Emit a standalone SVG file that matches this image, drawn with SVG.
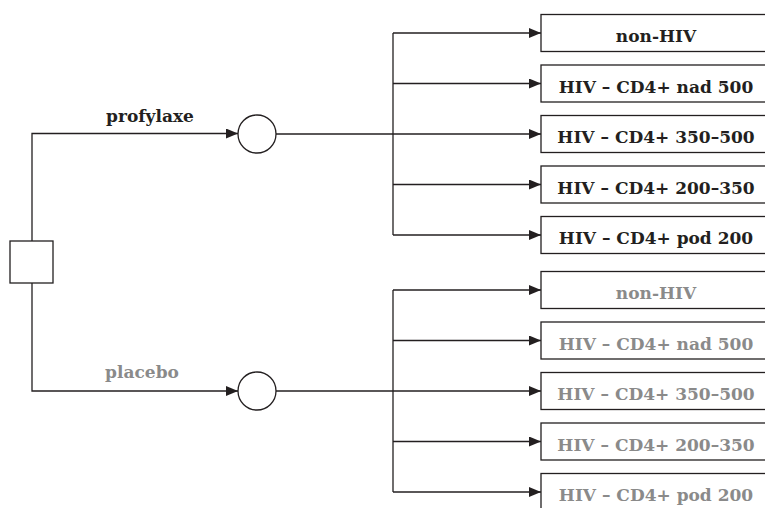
<svg xmlns="http://www.w3.org/2000/svg" width="765" height="508" viewBox="0 0 765 508">
<defs>
<marker id="arr" viewBox="0 0 12 10" refX="12" refY="5" markerWidth="12" markerHeight="10" markerUnits="userSpaceOnUse" orient="auto">
<path d="M0,0 L12,5 L0,10 Z" fill="#231f20"/>
</marker>
<style>
.ln{fill:none;stroke:#231f20;stroke-width:1.3}
.nd{fill:#fff;stroke:#231f20;stroke-width:1.3}
.t{font-family:"DejaVu Serif","Liberation Serif",serif;font-weight:bold;font-size:17px;fill:#231f20}
.g{fill:#8a8a8a}
.c{text-anchor:middle}
</style>
</defs>
<rect width="765" height="508" fill="#fff"/>
<g id="connectors">
<path class="ln" d="M32,241 V133.5 H238" marker-end="url(#arr)"/>
<path class="ln" d="M32,283 V391 H238" marker-end="url(#arr)"/>
<path class="ln" d="M276,134 H393"/>
<path class="ln" d="M276,391 H393"/>
<path class="ln" d="M393,33 V235"/>
<path class="ln" d="M393,290 V492"/>
<path class="ln" d="M393,33 H541" marker-end="url(#arr)"/>
<path class="ln" d="M393,83.5 H541" marker-end="url(#arr)"/>
<path class="ln" d="M393,134 H541" marker-end="url(#arr)"/>
<path class="ln" d="M393,184.5 H541" marker-end="url(#arr)"/>
<path class="ln" d="M393,235 H541" marker-end="url(#arr)"/>
<path class="ln" d="M393,290 H541" marker-end="url(#arr)"/>
<path class="ln" d="M393,340.5 H541" marker-end="url(#arr)"/>
<path class="ln" d="M393,391 H541" marker-end="url(#arr)"/>
<path class="ln" d="M393,441.5 H541" marker-end="url(#arr)"/>
<path class="ln" d="M393,492 H541" marker-end="url(#arr)"/>
<text class="t" x="150" y="122" text-anchor="middle">profylaxe</text>
<text class="t g" x="142" y="378" text-anchor="middle">placebo</text>
</g>
<g id="decision"><rect class="nd" x="10" y="241" width="43" height="42"/></g>
<g id="chance1"><circle class="nd" cx="257" cy="134" r="19"/></g>
<g id="chance2"><circle class="nd" cx="257" cy="391" r="19"/></g>
<g id="p1"><rect class="nd" x="541" y="14.5" width="240" height="37"/><text class="t c" x="656" y="42">non-HIV</text></g>
<g id="p2"><rect class="nd" x="541" y="65" width="240" height="37"/><text class="t c" x="656" y="92.5">HIV – CD4+ nad 500</text></g>
<g id="p3"><rect class="nd" x="541" y="115.5" width="240" height="37"/><text class="t c" x="656" y="143">HIV – CD4+ 350–500</text></g>
<g id="p4"><rect class="nd" x="541" y="166" width="240" height="37"/><text class="t c" x="656" y="193.5">HIV – CD4+ 200–350</text></g>
<g id="p5"><rect class="nd" x="541" y="216.5" width="240" height="37"/><text class="t c" x="656" y="244">HIV – CD4+ pod 200</text></g>
<g id="q1"><rect class="nd" x="541" y="271.5" width="240" height="37"/><text class="t g c" x="656" y="299">non-HIV</text></g>
<g id="q2"><rect class="nd" x="541" y="322" width="240" height="37"/><text class="t g c" x="656" y="349.5">HIV – CD4+ nad 500</text></g>
<g id="q3"><rect class="nd" x="541" y="372.5" width="240" height="37"/><text class="t g c" x="656" y="400">HIV – CD4+ 350–500</text></g>
<g id="q4"><rect class="nd" x="541" y="423" width="240" height="37"/><text class="t g c" x="656" y="450.5">HIV – CD4+ 200–350</text></g>
<g id="q5"><rect class="nd" x="541" y="473.5" width="240" height="37"/><text class="t g c" x="656" y="501">HIV – CD4+ pod 200</text></g>
</svg>
